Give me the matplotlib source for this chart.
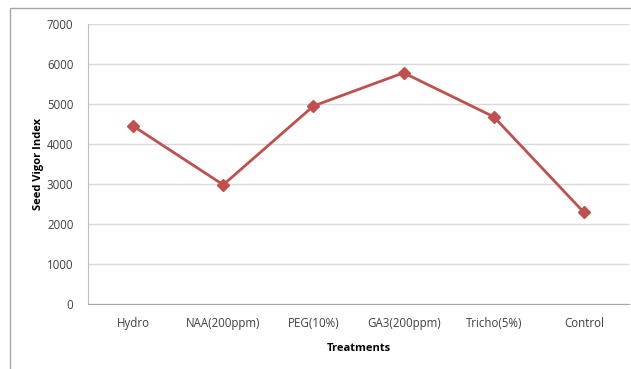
import matplotlib
matplotlib.use("Agg")
import matplotlib.pyplot as plt
from matplotlib.patches import Rectangle

treatments = ["Hydro", "NAA(200ppm)", "PEG(10%)", "GA3(200ppm)", "Tricho(5%)", "Control"]
vigor_index = [4450, 2980, 4950, 5780, 4680, 2290]
y_ticks = [0, 1000, 2000, 3000, 4000, 5000, 6000, 7000]

W, H = 631, 369
fig = plt.figure(figsize=(W / 100, H / 100), dpi=100)
fig.patch.set_facecolor("white")

# outer chart border
fig.patches.append(Rectangle((10 / W, -0.1), 1.2, (H - 8) / H + 0.1,
                             transform=fig.transFigure, fill=False,
                             edgecolor="#a6a6a6", linewidth=1.0))

left, right = 88 / W, 629 / W
bottom, top = 1 - 304 / H, 1 - 24 / H
ax = fig.add_axes([left, bottom, right - left, top - bottom])

x = list(range(len(treatments)))
ax.plot(x, vigor_index, color="#c0504d", linewidth=2.0, marker="D",
        markersize=6, markerfacecolor="#c0504d", markeredgecolor="#c0504d")

ax.set_xlim(-0.5, len(treatments) - 0.5)
ax.set_ylim(0, 7000)
ax.set_yticks(y_ticks)
ax.set_xticks(x)
ax.set_xticklabels(treatments)

font = "Open Sans"
for lbl in ax.get_xticklabels() + ax.get_yticklabels():
    lbl.set_fontfamily(font)
    lbl.set_fontsize(8.3)
    lbl.set_color("#404040")

ax.tick_params(axis="both", length=0)
ax.tick_params(axis="x", pad=9.5)
ax.tick_params(axis="y", pad=10.5)

ax.grid(axis="y", color="#d9d9d9", linewidth=1.0)
ax.set_axisbelow(True)
for side in ("top", "right"):
    ax.spines[side].set_visible(False)
ax.spines["left"].set_color("#bfbfbf")
ax.spines["bottom"].set_color("#a6a6a6")

ax.set_xlabel("Treatments", fontfamily=font, fontsize=8, fontweight="bold",
              labelpad=9)
ax.set_ylabel("Seed Vigor Index", fontfamily=font, fontsize=8,
              fontweight="bold", labelpad=2)

fig.savefig("out.png", dpi=100)
